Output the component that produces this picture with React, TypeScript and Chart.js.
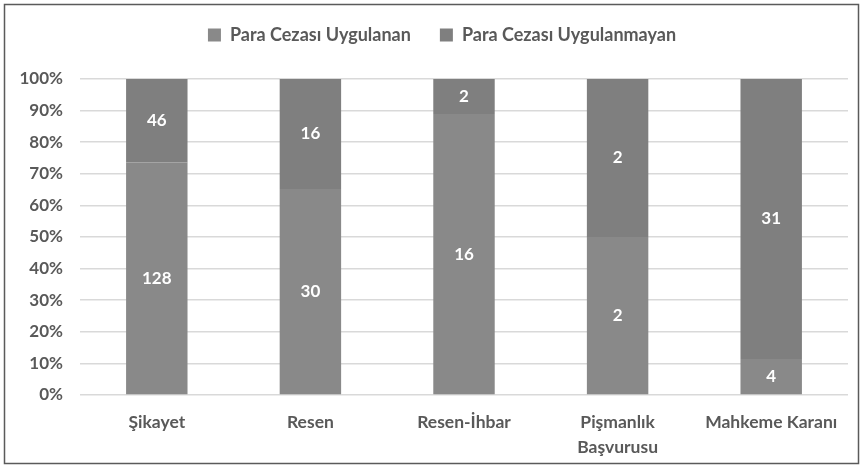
import React, { useEffect, useRef } from "react";
import { Chart, registerables } from "chart.js";

Chart.register(...registerables);

const categories: (string | string[])[] = [
  "Şikayet",
  "Resen",
  "Resen-İhbar",
  ["Pişmanlık", "Başvurusu"],
  "Mahkeme Karanı",
];
const seriesNames = ["Para Cezası Uygulanan", "Para Cezası Uygulanmayan"];
const uygulanan = [128, 30, 16, 2, 4];
const uygulanmayan = [46, 16, 2, 2, 31];
const yTicks = [0, 10, 20, 30, 40, 50, 60, 70, 80, 90, 100];

const totals = uygulanan.map((v, i) => v + uygulanmayan[i]);
const pct = (arr: number[]) => arr.map((v, i) => (v / totals[i]) * 100);
const rawSeries = [uygulanan, uygulanmayan];

const FONT = "Lato, 'Open Sans', sans-serif";

const labelPlugin = {
  id: "segLabels",
  afterDatasetsDraw(chart: any) {
    const ctx = chart.ctx;
    ctx.save();
    ctx.fillStyle = "#ffffff";
    ctx.font = `bold 17px ${FONT}`;
    ctx.textAlign = "center";
    ctx.textBaseline = "middle";
    chart.data.datasets.forEach((ds: any, di: number) => {
      const meta = chart.getDatasetMeta(di);
      meta.data.forEach((el: any, i: number) => {
        const { x, y, base } = el.getProps(["x", "y", "base"], true);
        ctx.fillText(String(rawSeries[di][i]), x, (y + base) / 2);
      });
    });
    ctx.restore();
  },
};

const framePlugin = {
  id: "frame",
  beforeDraw(chart: any) {
    const ctx = chart.ctx;
    ctx.save();
    ctx.fillStyle = "#ffffff";
    ctx.fillRect(0, 0, chart.width, chart.height);
    ctx.restore();
  },
  afterDraw(chart: any) {
    const ctx = chart.ctx;
    ctx.save();
    ctx.strokeStyle = "#5a5a5a";
    ctx.lineWidth = 1.5;
    ctx.strokeRect(4.5, 4.5, chart.width - 9, chart.height - 9);
    ctx.restore();
  },
};

const legendSpacer = {
  id: "legendSpacer",
  beforeInit(chart: any) {
    const orig = chart.legend.fit;
    chart.legend.fit = function () {
      orig.bind(chart.legend)();
      this.height += 22;
    };
  },
  afterLayout(chart: any) {
    const l = chart.legend;
    if (l) {
      l.left += 36;
      l.width = l.right - l.left;
      l.top -= 3;
      l.bottom -= 3;
    }
  },
};

export default function App() {
  const ref = useRef<HTMLCanvasElement>(null);
  useEffect(() => {
    document.body.style.margin = "0";
    const chart = new Chart(ref.current!, {
      type: "bar",
      data: {
        labels: categories,
        datasets: [
          {
            label: seriesNames[0],
            data: pct(uygulanan),
            backgroundColor: "#898989",
            barPercentage: 0.4,
            categoryPercentage: 1,
          },
          {
            label: seriesNames[1],
            data: pct(uygulanmayan),
            backgroundColor: "#7f7f7f",
            barPercentage: 0.4,
            categoryPercentage: 1,
          },
        ],
      },
      options: {
        animation: false,
        responsive: false,
        layout: { padding: { top: 0, right: 15, bottom: 0, left: 0 } },
        plugins: {
          legend: {
            position: "top",
            labels: {
              boxWidth: 13,
              boxHeight: 13,
              padding: 29,
              color: "#595959",
              font: { family: FONT, size: 18, weight: "bold" },
            },
          },
          tooltip: { enabled: false },
        },
        scales: {
          x: {
            stacked: true,
            grid: { display: false, drawTicks: false },
            border: { display: false },
            ticks: {
              color: "#595959",
              padding: 15,
              font: { family: FONT, size: 17.5, weight: "bold", lineHeight: 1.42 },
              maxRotation: 0,
            },
            afterFit(scale: any) {
              scale.height = 73;
            },
          },
          y: {
            stacked: true,
            min: 0,
            max: 100,
            afterBuildTicks(scale: any) {
              scale.ticks = yTicks.map((v) => ({ value: v }));
            },
            grid: { color: "#d9d9d9", lineWidth: 1.5, drawTicks: false },
            border: { display: false },
            ticks: {
              color: "#595959",
              padding: 17,
              font: { family: FONT, size: 17, weight: "bold" },
              callback: (v: any) => `${v}%`,
            },
            afterFit(scale: any) {
              scale.width = 80;
            },
          },
        },
      },
      plugins: [labelPlugin, framePlugin, legendSpacer],
    });
    return () => chart.destroy();
  }, []);
  return (
    <div style={{ width: 863, height: 468 }}>
      <canvas ref={ref} width={863} height={468} />
    </div>
  );
}
